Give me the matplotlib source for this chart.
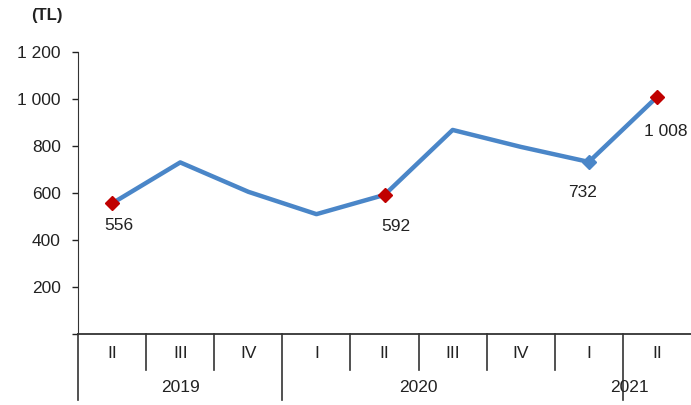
import matplotlib.pyplot as plt
from matplotlib.ticker import FuncFormatter

plt.rcParams['font.family'] = ['Liberation Sans', 'DejaVu Sans']

# quarterly values (TL)
quarters = ['II', 'III', 'IV', 'I', 'II', 'III', 'IV', 'I', 'II']
values = [556, 730, 605, 510, 592, 868, 796, 732, 1008]
years = ['2019', '2020', '2021']
year_centers = [1.0, 4.5, 7.6]
year_breaks = [2.5, 7.5]

# labelled points: index, colour, text offset (pt)
labelled = [0, 4, 7, 8]
label_colors = ['#c00000', '#c00000', '#4a86c8', '#c00000']
label_offsets = [(5, -16), (8.5, -23), (-4.5, -22), (6.5, -25)]

fig = plt.figure(figsize=(6.91, 4.05), dpi=100)
ax = fig.add_axes([0.113, 0.175, 0.887, 0.697])

x = list(range(len(values)))
ax.plot(x, values, color='#4a86c8', lw=3.2, zorder=2)

for i, c, off in zip(labelled, label_colors, label_offsets):
    ax.plot(x[i], values[i], marker='D', ms=7.5, color=c, mec=c, zorder=3)
    txt = '{:,}'.format(values[i]).replace(',', ' ')
    ax.annotate(txt, (x[i], values[i]), xytext=off, textcoords='offset points',
                ha='center', va='center', fontsize=12.5, color='#222222',
                annotation_clip=False)

ax.set_xlim(-0.5, len(values) - 0.5)
ax.set_ylim(0, 1200)
ax.set_yticks(range(0, 1201, 200))
ax.yaxis.set_major_formatter(FuncFormatter(
    lambda v, p: '' if v == 0 else '{:,}'.format(int(v)).replace(',', ' ')))
ax.tick_params(axis='y', length=4, width=1, labelsize=12.5, colors='#222222', pad=8.5)
ax.set_xticks([])

for s in ['top', 'right']:
    ax.spines[s].set_visible(False)
ax.spines['left'].set_color('#333333')
ax.spines['bottom'].set_color('#333333')
ax.spines['bottom'].set_linewidth(1.3)

tr = ax.get_xaxis_transform()
# quarter labels and separators
for i, q in enumerate(quarters):
    ax.text(i, -0.067, q, transform=tr, ha='center', va='center',
            fontsize=12.5, color='#222222')
for b in [0.5, 1.5, 3.5, 4.5, 5.5, 6.5]:
    ax.plot([b, b], [0, -0.128], transform=tr, color='#333333', lw=1.2, clip_on=False)
for b in [-0.5] + year_breaks:
    ax.plot([b, b], [0, -0.234], transform=tr, color='#333333', lw=1.2, clip_on=False)
for c, y in zip(year_centers, years):
    ax.text(c, -0.188, y, transform=tr, ha='center', va='center',
            fontsize=12.5, color='#222222')

fig.text(0.068, 0.962, '(TL)', ha='center', va='center', fontsize=12,
         fontweight='bold', color='#222222')

fig.savefig('out.png', dpi=100)
